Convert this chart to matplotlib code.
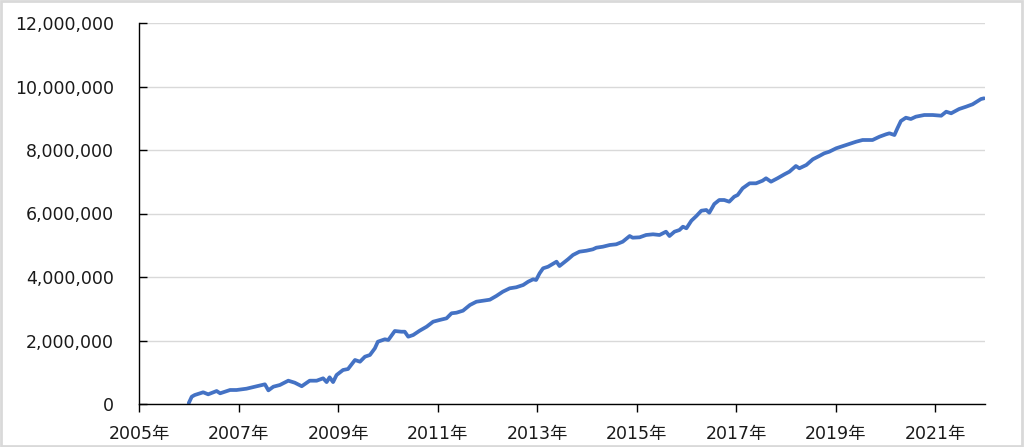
import matplotlib
matplotlib.use("Agg")
import matplotlib.pyplot as plt
from matplotlib.ticker import FuncFormatter, FixedLocator
from matplotlib.patches import Rectangle

# Decimal year and value
years = [2006.00, 2006.06, 2006.12, 2006.29, 2006.39, 2006.56, 2006.63, 2006.83, 2006.96,
         2007.16, 2007.33, 2007.53, 2007.60, 2007.70, 2007.83, 2008.00, 2008.13, 2008.27,
         2008.43, 2008.57, 2008.70, 2008.77, 2008.83, 2008.90, 2008.97, 2009.10, 2009.20,
         2009.34, 2009.44, 2009.54, 2009.64, 2009.74, 2009.80, 2009.94, 2010.01, 2010.14,
         2010.27, 2010.34, 2010.41, 2010.51, 2010.64, 2010.78, 2010.91, 2011.04, 2011.18,
         2011.28, 2011.38, 2011.51, 2011.65, 2011.78, 2011.91, 2012.05, 2012.18, 2012.31,
         2012.45, 2012.58, 2012.72, 2012.82, 2012.92, 2012.98, 2013.05, 2013.12, 2013.22,
         2013.39, 2013.45, 2013.52, 2013.62, 2013.72, 2013.85, 2013.99, 2014.12, 2014.19,
         2014.32, 2014.46, 2014.59, 2014.72, 2014.86, 2014.92, 2015.06, 2015.19, 2015.33,
         2015.46, 2015.59, 2015.66, 2015.76, 2015.86, 2015.93, 2016.00, 2016.10, 2016.20,
         2016.30, 2016.40, 2016.46, 2016.56, 2016.66, 2016.76, 2016.86, 2016.96, 2017.03,
         2017.13, 2017.27, 2017.40, 2017.53, 2017.60, 2017.70, 2017.83, 2017.97, 2018.07,
         2018.20, 2018.27, 2018.41, 2018.54, 2018.67, 2018.77, 2018.87, 2019.01, 2019.21,
         2019.41, 2019.54, 2019.74, 2019.88, 2020.01, 2020.08, 2020.18, 2020.24, 2020.31,
         2020.41, 2020.51, 2020.61, 2020.78, 2020.95, 2021.12, 2021.22, 2021.32, 2021.48,
         2021.62, 2021.75, 2021.92, 2021.98]

values = [30000, 230000, 283000, 369000, 305000, 409000, 337000, 441000, 441000,
          482000, 545000, 620000, 430000, 545000, 598000, 734000, 671000, 560000,
          734000, 734000, 809000, 690000, 841000, 690000, 913000, 1071000, 1102000,
          1386000, 1332000, 1490000, 1543000, 1754000, 1962000, 2038000, 2016000, 2299000,
          2277000, 2277000, 2120000, 2173000, 2309000, 2435000, 2592000, 2646000, 2699000,
          2857000, 2876000, 2939000, 3118000, 3222000, 3254000, 3285000, 3402000, 3537000,
          3644000, 3676000, 3748000, 3852000, 3928000, 3906000, 4117000, 4274000, 4324000,
          4482000, 4346000, 4432000, 4557000, 4693000, 4797000, 4828000, 4872000, 4923000,
          4954000, 5008000, 5030000, 5112000, 5291000, 5238000, 5250000, 5323000, 5345000,
          5323000, 5427000, 5291000, 5427000, 5480000, 5584000, 5534000, 5773000, 5921000,
          6088000, 6110000, 6025000, 6299000, 6425000, 6425000, 6372000, 6529000, 6583000,
          6794000, 6951000, 6951000, 7033000, 7109000, 7002000, 7109000, 7235000, 7317000,
          7496000, 7424000, 7528000, 7707000, 7811000, 7896000, 7946000, 8054000, 8157000,
          8261000, 8315000, 8315000, 8419000, 8494000, 8526000, 8472000, 8683000, 8913000,
          9017000, 8976000, 9049000, 9102000, 9102000, 9080000, 9206000, 9156000, 9291000,
          9364000, 9439000, 9606000, 9628000]

x_ticks = [2005, 2007, 2009, 2011, 2013, 2015, 2017, 2019, 2021]
x_tick_labels = [f"{y}年" for y in x_ticks]
y_ticks = [0, 2000000, 4000000, 6000000, 8000000, 10000000, 12000000]

FONT = ['DejaVu Sans', 'Noto Sans CJK JP']
plt.rcParams['font.family'] = FONT

fig = plt.figure(figsize=(10.24, 4.47), dpi=100)
ax = fig.add_axes([139/1024, 43/447, 846/1024, 381/447])

ax.plot(years, values, color='#4472C4', linewidth=2.7, solid_joinstyle='round',
        solid_capstyle='round')

ax.set_xlim(2005, 2022)
ax.set_ylim(0, 12000000)

ax.yaxis.set_major_locator(FixedLocator(y_ticks))
ax.yaxis.set_major_formatter(FuncFormatter(lambda v, p: f"{int(v):,}"))
ax.set_xticks(x_ticks)
ax.set_xticklabels(x_tick_labels)

ax.grid(axis='y', color='#d9d9d9', linewidth=1.0)
ax.set_axisbelow(True)

for s in ['top', 'right']:
    ax.spines[s].set_visible(False)
for s in ['left', 'bottom']:
    ax.spines[s].set_color('#000000')
    ax.spines[s].set_linewidth(1.0)

ax.tick_params(axis='y', direction='in', length=6, width=1.0, pad=18,
               labelsize=12.5, colors='#000000', labelcolor='#1a1a1a')
ax.tick_params(axis='x', direction='out', length=6, width=1.0, pad=9,
               labelsize=12.5, colors='#000000', labelcolor='#1a1a1a')

fig.patches.append(Rectangle((0.001, 0.002), 0.997, 0.995, transform=fig.transFigure,
                             fill=False, edgecolor='#d9d9d9', linewidth=2.0))

fig.savefig('out.png', dpi=100)
